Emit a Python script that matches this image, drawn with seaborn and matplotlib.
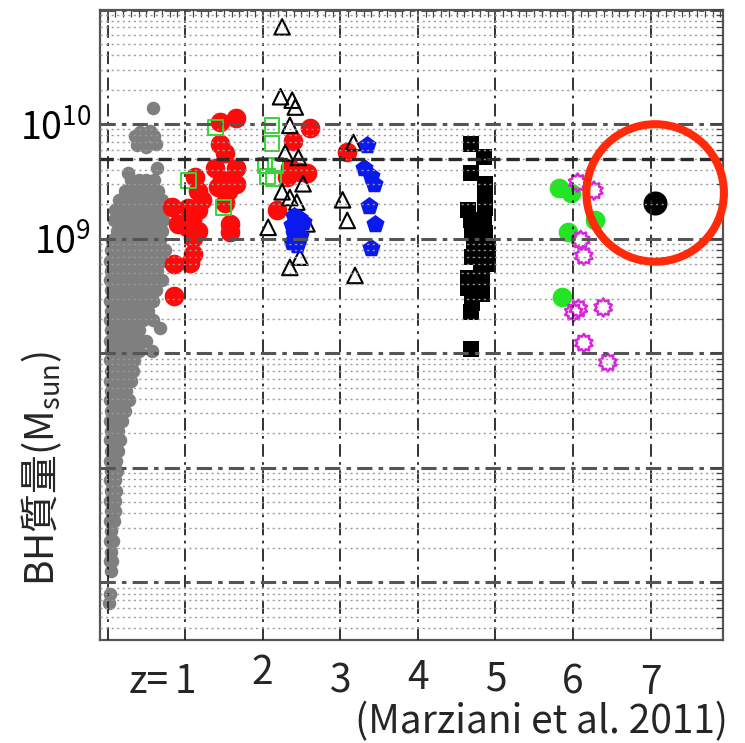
import numpy as np
import pandas as pd
import matplotlib
matplotlib.use("Agg")
import matplotlib.pyplot as plt
from matplotlib import ticker
from matplotlib.path import Path
from matplotlib.transforms import blended_transform_factory
import seaborn as sns

# (redshift z, log10 BH mass [M_sun])
gray_pts = [
    (0.59, 10.14),
    (0.35, 9.90), (0.42, 9.93), (0.55, 9.94), (0.60, 9.90), (0.38, 9.82),
    (0.50, 9.80), (0.62, 9.83), (0.45, 9.86), (0.64, 9.62), (0.26, 9.57),
    (0.30, 9.51), (0.40, 9.51), (0.50, 9.51), (0.60, 9.51),
    (0.22, 9.42), (0.35, 9.42), (0.45, 9.42), (0.55, 9.42), (0.65, 9.42),
    (0.15, 9.34), (0.28, 9.34), (0.40, 9.34), (0.52, 9.34), (0.62, 9.34), (0.70, 9.34),
    (0.10, 9.25), (0.20, 9.25), (0.32, 9.25), (0.45, 9.25), (0.58, 9.25), (0.68, 9.25),
    (0.08, 9.16), (0.18, 9.16), (0.30, 9.16), (0.42, 9.16), (0.55, 9.16), (0.66, 9.16),
    (0.72, 9.16),
    (0.12, 9.07), (0.25, 9.07), (0.38, 9.07), (0.50, 9.07), (0.62, 9.07), (0.70, 9.07),
    (0.06, 8.99), (0.18, 8.99), (0.30, 8.99), (0.42, 8.99), (0.55, 8.99), (0.68, 8.99),
    (0.05, 8.90), (0.15, 8.90), (0.28, 8.90), (0.40, 8.90), (0.52, 8.90), (0.64, 8.90),
    (0.74, 8.90),
    (0.03, 8.81), (0.12, 8.81), (0.24, 8.81), (0.36, 8.81), (0.48, 8.81), (0.60, 8.81),
    (0.72, 8.81),
    (0.05, 8.72), (0.16, 8.72), (0.28, 8.72), (0.40, 8.72), (0.52, 8.72), (0.64, 8.72),
    (0.03, 8.64), (0.12, 8.64), (0.24, 8.64), (0.36, 8.64), (0.48, 8.64), (0.60, 8.64),
    (0.70, 8.64),
    (0.05, 8.55), (0.16, 8.55), (0.28, 8.55), (0.40, 8.55), (0.52, 8.55), (0.62, 8.55),
    (0.03, 8.46), (0.12, 8.46), (0.24, 8.46), (0.36, 8.46), (0.48, 8.46), (0.58, 8.46),
    (0.05, 8.37), (0.16, 8.37), (0.28, 8.37), (0.40, 8.37), (0.52, 8.37),
    (0.03, 8.29), (0.12, 8.29), (0.24, 8.29), (0.36, 8.29), (0.46, 8.29), (0.58, 8.29),
    (0.68, 8.22),
    (0.05, 8.20), (0.16, 8.20), (0.28, 8.20), (0.40, 8.20),
    (0.03, 8.11), (0.12, 8.11), (0.24, 8.11), (0.36, 8.11), (0.50, 8.11),
    (0.57, 8.02), (0.05, 8.02), (0.16, 8.02), (0.28, 8.02), (0.40, 8.02),
    (0.03, 7.94), (0.12, 7.94), (0.24, 7.94), (0.34, 7.94),
    (0.05, 7.85), (0.15, 7.85), (0.26, 7.85), (0.33, 7.85),
    (0.03, 7.76), (0.12, 7.76), (0.22, 7.76), (0.30, 7.76),
    (0.05, 7.67), (0.14, 7.67), (0.24, 7.67),
    (0.03, 7.59), (0.12, 7.59), (0.22, 7.59), (0.28, 7.59),
    (0.05, 7.50), (0.14, 7.50), (0.22, 7.50),
    (0.03, 7.41), (0.12, 7.41), (0.18, 7.41),
    (0.05, 7.32), (0.13, 7.32),
    (0.03, 7.24), (0.12, 7.24), (0.16, 7.24),
    (0.05, 7.15), (0.13, 7.15),
    (0.03, 7.06), (0.11, 7.06),
    (0.05, 6.97), (0.12, 6.97),
    (0.03, 6.89), (0.10, 6.89),
    (0.05, 6.80), (0.11, 6.80),
    (0.03, 6.71), (0.09, 6.71),
    (0.05, 6.62), (0.09, 6.62),
    (0.03, 6.54), (0.08, 6.54),
    (0.05, 6.45),
    (0.03, 6.36), (0.07, 6.36),
    (0.04, 6.27),
    (0.03, 6.19), (0.06, 6.19),
    (0.04, 6.10),
    (0.03, 5.90), (0.02, 5.82),
]

red_pts = [
    (1.65, 10.05), (1.45, 10.02), (1.45, 9.83), (1.52, 9.75), (1.39, 9.62),
    (1.65, 9.62), (1.48, 9.51), (1.65, 9.48), (1.43, 9.45), (1.55, 9.42),
    (1.52, 9.31), (1.58, 9.13), (1.58, 9.06), (1.13, 9.54), (1.17, 9.42),
    (1.22, 9.34), (1.04, 9.27), (1.17, 9.25), (1.09, 9.16), (1.17, 9.07),
    (1.02, 9.10), (1.10, 9.01), (0.83, 9.28), (0.91, 9.13), (1.10, 8.87),
    (1.06, 8.79), (0.85, 8.78), (0.85, 8.50),
    (2.61, 9.97), (2.39, 9.85), (2.48, 9.58), (2.57, 9.57), (2.31, 9.54),
    (2.35, 9.62), (2.19, 9.25), (3.09, 9.76),
]

green_sq_pts = [
    (1.39, 9.97), (1.04, 9.51), (1.49, 9.27),
    (2.12, 9.99), (2.12, 9.83), (2.03, 9.64), (2.16, 9.64), (2.06, 9.54), (2.14, 9.53),
]

tri_pts = [
    (2.25, 10.85), (2.23, 10.24), (2.38, 10.21), (2.42, 10.15), (2.35, 9.99),
    (2.29, 9.75), (2.46, 9.71), (2.52, 9.48), (2.25, 9.41), (2.35, 9.36),
    (2.44, 9.32), (2.07, 9.10), (2.57, 9.13), (2.48, 8.84), (2.35, 8.75),
    (3.17, 9.84), (3.03, 9.34), (3.09, 9.16), (3.19, 8.68),
]

blue_pts = [
    (2.40, 9.20), (2.47, 9.18), (2.38, 9.12), (2.45, 9.10), (2.40, 9.04),
    (2.48, 9.02), (2.38, 8.97), (2.44, 8.95), (2.52, 9.15), (2.42, 9.08),
    (3.35, 9.82), (3.30, 9.62), (3.39, 9.55), (3.43, 9.48), (3.37, 9.29),
    (3.45, 9.13), (3.39, 8.92),
]

black_sq_pts = [
    (4.68, 9.83), (4.85, 9.71), (4.68, 9.57), (4.87, 9.48), (4.87, 9.41),
    (4.65, 9.25), (4.87, 9.27), (4.68, 9.16), (4.85, 9.16), (4.70, 9.07),
    (4.87, 9.05), (4.72, 8.96), (4.90, 8.92), (4.70, 8.84), (4.91, 8.78),
    (4.81, 8.75), (4.65, 8.66), (4.83, 8.64), (4.65, 8.57), (4.83, 8.52),
    (4.70, 8.44), (4.68, 8.36), (4.68, 8.04),
]

green_dot_pts = [(5.82, 9.44), (5.97, 9.40), (6.29, 9.16), (5.94, 9.06), (5.86, 8.49)]

magenta_pts = [
    (6.06, 9.49), (6.27, 9.42), (6.10, 8.99), (6.14, 8.85), (6.01, 8.36),
    (6.07, 8.39), (6.39, 8.40), (6.14, 8.09), (6.45, 7.92),
]

ulas_pt = [(7.06, 9.31)]
ring_pt = [(7.06, 9.40)]
limit_mass = 5e9

z_ticks = [1, 2, 3, 4, 5, 6, 7]
z_tick_labels = ["1", "2", "3", "4", "5", "6", "7"]
z_label_base = [-0.084, -0.070, -0.084, -0.079, -0.081, -0.086, -0.086]


def frame(pts):
    df = pd.DataFrame(pts, columns=["z", "logm"])
    df["mass"] = 10 ** df["logm"]
    return df


sns.set_theme(style="white")
plt.rcParams['font.family'] = ['Noto Sans CJK JP', 'DejaVu Sans']
plt.rcParams['mathtext.fontset'] = 'custom'
plt.rcParams['mathtext.rm'] = 'Noto Sans CJK JP'
plt.rcParams['mathtext.default'] = 'rm'

fig = plt.figure(figsize=(7.45, 7.43), dpi=100)
ax = fig.add_axes([0.134, 0.139, 0.836, 0.848])
ax.set_yscale("log")

gear = Path.unit_regular_star(10, 0.72)

layers = [
    (gray_pts, dict(marker="o", s=95, color="#7f7f7f", linewidth=0)),
    (red_pts, dict(marker="o", s=200, color="#ff0a0a", linewidth=0)),
    (green_sq_pts, dict(marker="s", s=115, color="#2fd82f", facecolor="none",
                        edgecolor="#2fd82f", linewidth=1.4)),
    (tri_pts, dict(marker="^", s=125, color="black", facecolor="none",
                   edgecolor="black", linewidth=1.5)),
    (blue_pts, dict(marker="p", s=190, color="#0a1aee", linewidth=0)),
    (black_sq_pts, dict(marker="s", s=135, color="black", linewidth=0)),
    (green_dot_pts, dict(marker="o", s=200, color="#22e622", linewidth=0)),
    (magenta_pts, dict(marker=gear, s=170, color="#d824e0", facecolor="none",
                       edgecolor="#d824e0", linewidth=1.8)),
    (ulas_pt, dict(marker="o", s=300, color="black", linewidth=0)),
]
for pts, kw in layers:
    d = frame(pts)
    sns.scatterplot(data=d, x="z", y="mass", ax=ax, legend=False, **kw)

ring = frame(ring_pt)
sns.scatterplot(data=ring, x="z", y="mass", ax=ax, legend=False, marker="o",
                s=99 ** 2, color="#ff2a0a", facecolor="none", edgecolor="#ff2a0a",
                linewidth=5.8, clip_on=False, zorder=5)

ax.axhline(limit_mass, color="#2a2a2a", ls=(0, (4, 1.8)), lw=2.4, zorder=3)

ax.set_xlim(-0.1, 7.93)
ax.set_ylim(10 ** 5.5, 1e11)

ax.xaxis.set_major_locator(ticker.MultipleLocator(1))
ax.xaxis.set_minor_locator(ticker.MultipleLocator(0.1))
ax.xaxis.set_major_formatter(ticker.NullFormatter())
ax.yaxis.set_major_locator(ticker.LogLocator(base=10, numticks=20))
ax.yaxis.set_minor_locator(ticker.LogLocator(base=10, subs=np.arange(2, 10), numticks=50))
ax.yaxis.set_minor_formatter(ticker.NullFormatter())
ax.yaxis.set_major_formatter(ticker.FuncFormatter(
    lambda v, p: "$10^{%d}$" % round(np.log10(v)) if round(np.log10(v)) in (9, 10) else ""))

ax.tick_params(which="both", direction="in", top=True, right=True, colors="#444444")
ax.tick_params(which="major", length=9, width=1.3, labelsize=27, pad=6, labelcolor="black")
ax.tick_params(which="minor", length=5, width=0.9)

ax.grid(which="major", axis="x", color="#222222", ls=(0, (7, 3, 1.5, 3)), lw=1.3)
ax.grid(which="major", axis="y", color="#555555", ls=(0, (5, 2, 1.5, 2)), lw=2.2)
ax.grid(which="minor", axis="y", color="#9a9a9a", ls=(0, (1.5, 2.5)), lw=1.0)
ax.set_axisbelow(False)

for sp in ax.spines.values():
    sp.set_color("#555555")
    sp.set_linewidth(1.6)

ax.set_xlabel("")
ax.set_ylabel("")

tr = blended_transform_factory(ax.transData, ax.transAxes)
ax.text(0.53, -0.084, "z=", transform=tr, ha="center", va="baseline", fontsize=28)
for zt, lab, yb in zip(z_ticks, z_tick_labels, z_label_base):
    ax.text(zt, yb, lab, transform=tr, ha="center", va="baseline", fontsize=28)

fig.text(0.977, 0.013, "(Marziani et al. 2011)", ha="right", va="baseline", fontsize=28)
fig.text(0.056, 0.370, "BH質量(M$_{\\mathrm{sun}}$)", rotation=90,
         ha="center", va="center", fontsize=28)

fig.savefig("out.png", dpi=100)
